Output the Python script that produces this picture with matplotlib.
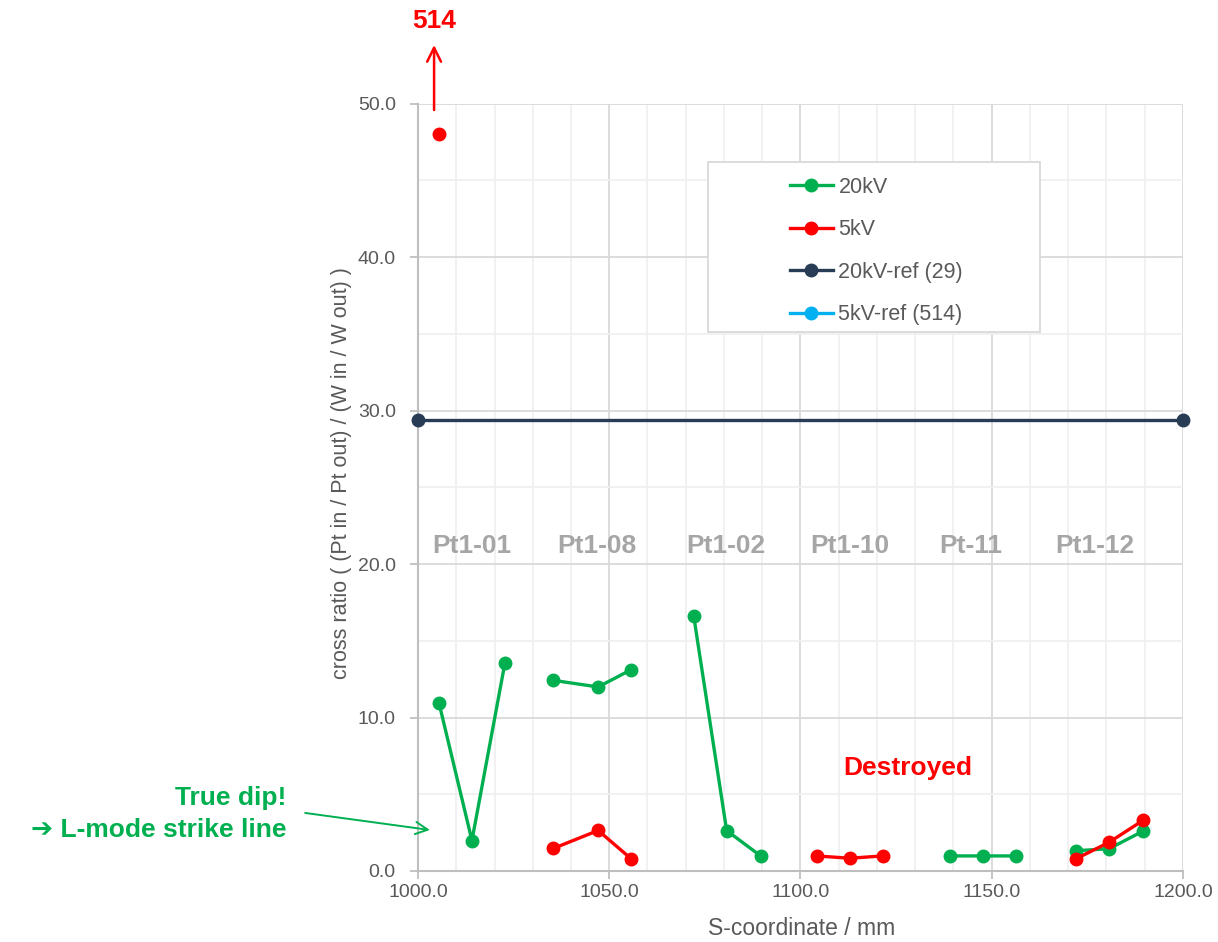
import numpy as np
import matplotlib

matplotlib.use("Agg")
import matplotlib.pyplot as plt
from matplotlib.patches import Rectangle

plt.rcParams["font.family"] = ["Liberation Sans", "DejaVu Sans"]

nan = np.nan

# 20kV measurements (NaN separates the probe groups)
s_20kv = [1005.5, 1014.1, 1022.7, nan, 1035.4, 1047.1, 1055.7, nan,
          1072.1, 1080.7, 1089.6, nan, 1139.2, 1147.8, 1156.4, nan,
          1172.1, 1180.7, 1189.6]
ratio_20kv = [10.93, 1.98, 13.52, nan, 12.42, 11.99, 13.11, nan,
              16.59, 2.63, 0.98, nan, 0.98, 0.98, 0.98, nan,
              1.32, 1.45, 2.60]

# 5kV measurements
s_5kv = [1005.5, nan, 1035.4, 1047.1, 1055.7, nan,
         1104.2, 1112.9, 1121.5, nan, 1172.1, 1180.7, 1189.6]
ratio_5kv = [48.0, nan, 1.47, 2.64, 0.80, nan,
             0.98, 0.83, 0.98, nan, 0.80, 1.87, 3.30]

# reference levels
s_ref = [1000.0, 1200.0]
ratio_ref_20kv = [29.4, 29.4]
ratio_ref_5kv = [514.0, 514.0]

probe_names = ["Pt1-01", "Pt1-08", "Pt1-02", "Pt1-10", "Pt-11", "Pt1-12"]
probe_centers = [1014.0, 1046.8, 1080.5, 1113.0, 1144.6, 1177.0]

GREEN = "#00b050"
RED = "#ff0000"
NAVY = "#283d55"
CYAN = "#00b0f0"
TICK_GRAY = "#595959"

fig = plt.figure(figsize=(12.18, 9.42), dpi=100)
ax = fig.add_axes([0.3432, 0.0754, 0.628, 0.8146])

line_kw = dict(linewidth=2.4, marker="o", markersize=9)
ax.plot(s_20kv, ratio_20kv, color=GREEN, label="20kV", zorder=4, **line_kw)
ax.plot(s_5kv, ratio_5kv, color=RED, label="5kV", zorder=5, **line_kw)
ax.plot(s_ref, ratio_ref_20kv, color=NAVY, label="20kV-ref (29)", zorder=4,
        clip_on=False, **line_kw)
ax.plot(s_ref, ratio_ref_5kv, color=CYAN, label="5kV-ref (514)", zorder=4, **line_kw)

ax.set_xlim(1000, 1200)
ax.set_ylim(0, 50)
ax.set_xticks(np.arange(1000, 1201, 50))
ax.set_xticks(np.arange(1000, 1201, 10), minor=True)
ax.set_yticks(np.arange(0, 51, 10))
ax.set_yticks(np.arange(0, 51, 5), minor=True)
ax.xaxis.set_major_formatter(matplotlib.ticker.FormatStrFormatter("%.1f"))
ax.yaxis.set_major_formatter(matplotlib.ticker.FormatStrFormatter("%.1f"))

ax.grid(which="major", color="#d9d9d9", linewidth=1.3)
ax.grid(which="minor", color="#f0f0f0", linewidth=1.3)
ax.set_axisbelow(True)
for side in ["top", "right"]:
    ax.spines[side].set_visible(False)
for side in ["left", "bottom"]:
    ax.spines[side].set_color("#bfbfbf")
    ax.spines[side].set_linewidth(1.5)
ax.tick_params(which="major", length=6, width=1.3, color="#bfbfbf",
               labelcolor=TICK_GRAY, labelsize=14)
ax.tick_params(axis="y", which="major", pad=10)
ax.tick_params(which="minor", length=0)

ax.set_xlabel("S-coordinate / mm", fontsize=16.5, color=TICK_GRAY)
ax.set_ylabel("cross ratio ( (Pt in / Pt out) / (W in / W out) )",
              fontsize=15.5, color=TICK_GRAY)
ax.xaxis.set_label_coords(0.502, -0.06)
ax.yaxis.set_label_coords(-0.086, 0.519)

for name, center in zip(probe_names, probe_centers):
    ax.text(center, 21.2, name, ha="center", va="center", fontsize=19,
            fontweight="bold", color="#a6a6a6", zorder=3)

ax.text(1128, 6.7, "Destroyed", ha="center", va="center", fontsize=19,
        fontweight="bold", color=RED)

# off-scale 5kV value
ax.annotate("", xy=(1004.2, 54.0), xytext=(1004.2, 49.4),
            arrowprops=dict(arrowstyle="->", color=RED, lw=1.8,
                            mutation_scale=25),
            annotation_clip=False)
ax.text(1004.2, 55.4, "514", ha="center", va="center", fontsize=19,
        fontweight="bold", color=RED, clip_on=False)

# strike line note
ax.annotate("", xy=(1003.1, 2.67), xytext=(970.5, 3.78),
            arrowprops=dict(arrowstyle="->", color=GREEN, lw=1.4,
                            mutation_scale=22, shrinkA=0, shrinkB=0),
            annotation_clip=False)
ax.text(965.5, 3.7, "True dip!\n\u2794 L-mode strike line", ha="right",
        va="center", fontsize=19, fontweight="bold", color=GREEN,
        linespacing=1.4, multialignment="right", clip_on=False)

# legend with a wide frame
ax.add_patch(Rectangle((0.379, 0.702), 0.434, 0.222, transform=ax.transAxes,
                       facecolor="white", edgecolor="#d9d9d9", linewidth=1.3,
                       zorder=6))
leg = ax.legend(loc="upper left", bbox_to_anchor=(0.475, 0.916), frameon=False,
                fontsize=15.5, handlelength=2.0, handletextpad=0.25,
                labelspacing=1.0, borderaxespad=0)
leg.set_zorder(7)
for text in leg.get_texts():
    text.set_color(TICK_GRAY)

fig.savefig("out.png", dpi=100)
